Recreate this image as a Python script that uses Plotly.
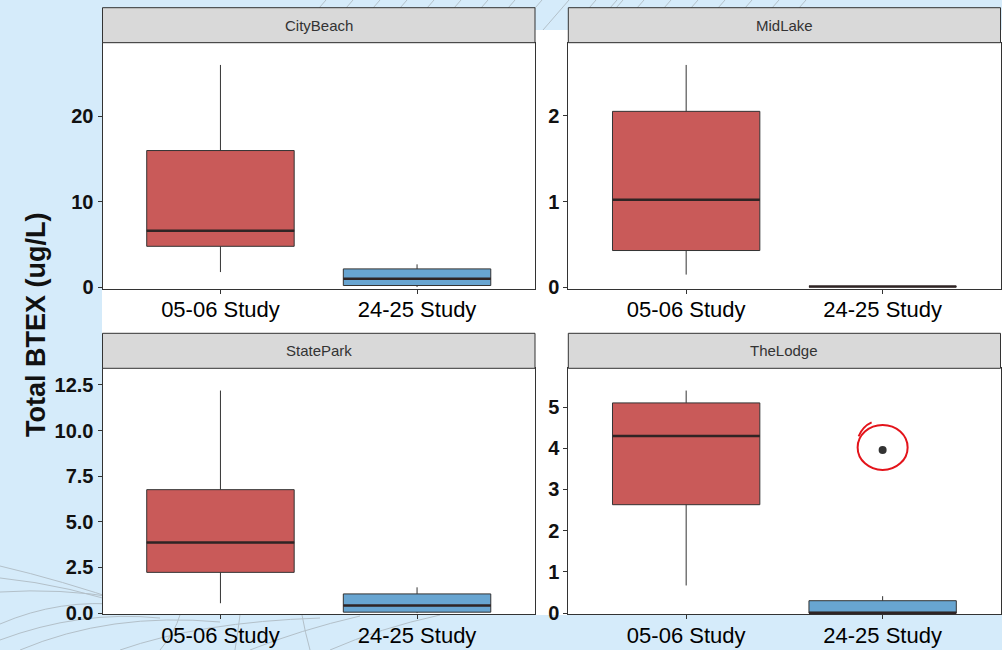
import plotly.graph_objects as go
from plotly.subplots import make_subplots

# ---- data -------------------------------------------------------------
sites = ["CityBeach", "MidLake", "StatePark", "TheLodge"]
studies = ["05-06 Study", "24-25 Study"]

# 05-06 Study box statistics per site
low_0506 = [1.8, 0.15, 0.54, 0.67]
q1_0506 = [4.81, 0.43, 2.23, 2.63]
median_0506 = [6.63, 1.02, 3.86, 4.30]
q3_0506 = [16.0, 2.05, 6.76, 5.10]
high_0506 = [26.0, 2.59, 12.19, 5.40]

# 24-25 Study box statistics per site
low_2425 = [0.05, 0.01, 0.0, 0.0]
q1_2425 = [0.23, 0.01, 0.05, 0.0]
median_2425 = [1.01, 0.01, 0.41, 0.0]
q3_2425 = [2.17, 0.01, 1.05, 0.30]
high_2425 = [2.70, 0.01, 1.41, 0.41]

# points beyond the whiskers: (site, study, value)
outliers = [("TheLodge", "24-25 Study", 3.96)]

# ---- style ------------------------------------------------------------
W, H = 1002, 650
RED = "#C95A59"
BLUE = "#68A5D1"
EDGE = "#333333"
MEDIAN = "#2f2424"
BG = "#D5EBFA"
FONT = "Liberation Sans, Arial, sans-serif"

# pixel geometry of the facet panels
col_px = [(102.5, 535.0), (568.3, 1000.5)]
row_px = [(42.7, 288.7), (368.3, 614.3)]
strip_h = 35.0
BOX_W = 0.75
XR = (0.4, 2.6)


def px_x(p):
    return p / W


def px_y(p):
    return 1 - p / H


fig = make_subplots(rows=2, cols=2)
fig.update_layout(
    width=W, height=H, margin=dict(l=0, r=0, t=0, b=0, autoexpand=False),
    paper_bgcolor=BG, plot_bgcolor="white", showlegend=False,
    font=dict(family=FONT, color="#111111"),
)

shapes = []
annotations = []

# decorative background strokes (only visible over the blue backdrop)
deco = "#b3c0c9"
for i in range(12):
    x0 = 300 + i * 27
    shapes.append(dict(type="line", xref="paper", yref="paper", layer="below",
                       x0=px_x(x0), y0=px_y(30), x1=px_x(x0 + 26), y1=px_y(0),
                       line=dict(color=deco, width=1)))
for i in range(8):
    x0 = 610 + i * 27
    shapes.append(dict(type="line", xref="paper", yref="paper", layer="below",
                       x0=px_x(x0), y0=px_y(8), x1=px_x(x0 + 7), y1=px_y(0),
                       line=dict(color=deco, width=1)))
curves = [
    [(0, 566), (60, 580), (130, 604)],
    [(0, 578), (70, 585), (140, 610)],
    [(0, 592), (60, 588), (120, 598)],
    [(0, 624), (60, 598), (125, 605)],
    [(0, 640), (80, 610), (160, 618)],
    [(20, 650), (110, 612), (220, 622)],
    [(120, 650), (200, 622), (320, 618)],
    [(250, 650), (300, 630), (360, 616)],
    [(330, 650), (380, 628), (440, 615)],
    [(160, 650), (175, 632), (180, 615)],
    [(235, 650), (238, 632), (240, 615)],
    [(310, 650), (305, 632), (302, 615)],
]
for (a, b, c) in curves:
    path = "M {:.4f},{:.4f} Q {:.4f},{:.4f} {:.4f},{:.4f}".format(
        px_x(a[0]), px_y(a[1]), px_x(b[0]), px_y(b[1]), px_x(c[0]), px_y(c[1]))
    shapes.append(dict(type="path", xref="paper", yref="paper", layer="below",
                       path=path, line=dict(color=deco, width=1)))

# white sheet behind the chart
shapes.append(dict(type="rect", xref="paper", yref="paper", layer="below",
                   x0=px_x(102), x1=1, y0=px_y(615), y1=px_y(30),
                   fillcolor="white", line=dict(width=0)))

stat_sets = [
    (low_0506, q1_0506, median_0506, q3_0506, high_0506, RED),
    (low_2425, q1_2425, median_2425, q3_2425, high_2425, BLUE),
]

for k, site in enumerate(sites):
    r, c = divmod(k, 2)
    row, col = r + 1, c + 1
    n = k + 1
    xs = "x" if n == 1 else "x%d" % n
    ys = "y" if n == 1 else "y%d" % n

    values = [high_0506[k], high_2425[k]] + [v for s, st, v in outliers if s == site]
    top = 1.1 * max(values)
    yr = [-0.005 * top, top]

    for j, (lo, a, m, b, hi, color) in enumerate(stat_sets):
        pos = j + 1
        fig.add_trace(go.Box(
            x=[pos], lowerfence=[lo[k]], q1=[a[k]], median=[m[k]], q3=[b[k]],
            upperfence=[hi[k]], width=BOX_W, whiskerwidth=0,
            fillcolor=color, line=dict(color=EDGE, width=1),
            boxpoints=False, hoverinfo="skip",
        ), row=row, col=col)
        # thicker median bar
        shapes.append(dict(type="line", xref=xs, yref=ys,
                           x0=pos - BOX_W / 2, x1=pos + BOX_W / 2,
                           y0=m[k], y1=m[k],
                           line=dict(color=MEDIAN, width=2.5)))

    for s, st, v in outliers:
        if s != site:
            continue
        pos = studies.index(st) + 1
        fig.add_trace(go.Scatter(
            x=[pos], y=[v], mode="markers",
            marker=dict(color=EDGE, size=8), hoverinfo="skip",
        ), row=row, col=col)
        # hand-drawn red ring around the outlier
        ux = (XR[1] - XR[0]) / (col_px[c][1] - col_px[c][0])
        uy = (yr[1] - yr[0]) / (row_px[r][1] - row_px[r][0])
        cx, cy = pos, v + 2.5 * uy
        shapes.append(dict(type="circle", xref=xs, yref=ys,
                           x0=cx - 25 * ux, x1=cx + 25 * ux,
                           y0=cy - 22.5 * uy, y1=cy + 22.5 * uy,
                           line=dict(color="#E3141B", width=2)))
        shapes.append(dict(type="path", xref=xs, yref=ys,
                           path="M {:.5f},{:.5f} Q {:.5f},{:.5f} {:.5f},{:.5f}".format(
                               cx - 24 * ux, cy + 11 * uy,
                               cx - 20 * ux, cy + 21 * uy,
                               cx - 11 * ux, cy + 25 * uy),
                           line=dict(color="#E3141B", width=2)))

    x_dom = [px_x(col_px[c][0]), px_x(col_px[c][1])]
    y_dom = [px_y(row_px[r][1]), px_y(row_px[r][0])]
    fig.update_xaxes(domain=x_dom, range=list(XR), tickvals=[1, 2], ticktext=studies,
                     showgrid=False, zeroline=False, ticks="outside", ticklen=4,
                     tickcolor=EDGE, showline=True, mirror=True, linecolor=EDGE,
                     linewidth=1, automargin=False, ticklabelstandoff=-3,
                     tickfont=dict(size=22, color="#000000"),
                     row=row, col=col)
    yfmt = ".1f" if site == "StatePark" else ""
    fig.update_yaxes(domain=y_dom, range=yr, showgrid=False, zeroline=False,
                     ticks="outside", ticklen=4, tickcolor=EDGE, showline=True,
                     mirror=True, linecolor=EDGE, linewidth=1, tickformat=yfmt,
                     automargin=False,
                     tickfont=dict(size=20, color="#111111", weight="bold"),
                     row=row, col=col)

    # facet strip
    s_top = row_px[r][0] - strip_h
    shapes.append(dict(type="rect", xref="paper", yref="paper",
                       x0=x_dom[0], x1=x_dom[1], y0=px_y(row_px[r][0]), y1=px_y(s_top),
                       fillcolor="#D9D9D9", line=dict(color=EDGE, width=1)))
    annotations.append(dict(xref="paper", yref="paper", x=(x_dom[0] + x_dom[1]) / 2,
                            y=px_y(s_top + strip_h / 2), text=site, showarrow=False,
                            font=dict(size=15, color="#333333"),
                            xanchor="center", yanchor="middle"))

fig.update_yaxes(dtick=10, row=1, col=1)
fig.update_yaxes(dtick=1, row=1, col=2)
fig.update_yaxes(dtick=2.5, row=2, col=1)
fig.update_yaxes(dtick=1, row=2, col=2)

annotations.append(dict(xref="paper", yref="paper", x=px_x(36), y=px_y(325),
                        text="Total BTEX (ug/L)", showarrow=False, textangle=-90,
                        font=dict(size=27, color="#111111", weight="bold"),
                        xanchor="center", yanchor="middle"))

fig.update_layout(shapes=shapes, annotations=annotations)
fig.write_html("out.html")
